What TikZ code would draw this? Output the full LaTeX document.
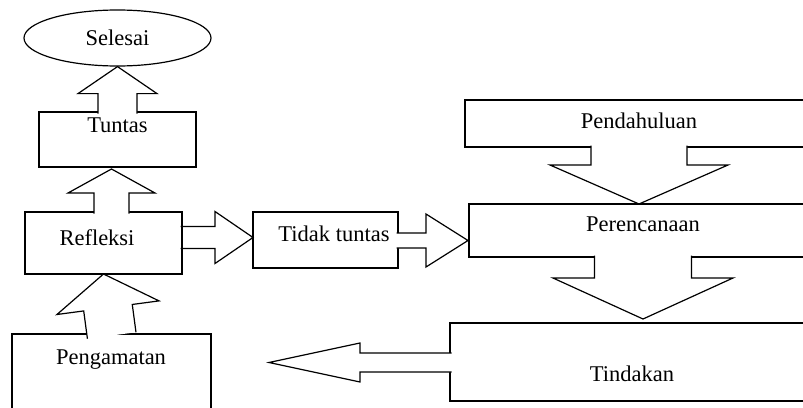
\documentclass[tikz,border=0pt]{standalone}
\usepackage{fontspec}
\setmainfont{Liberation Serif}
\usetikzlibrary{calc,shapes.geometric}
\tikzset{font=\fontsize{22.5}{27}\selectfont}
\tikzset{box/.style={draw, rectangle, line width=1.2pt, inner sep=0pt, outer sep=0pt}}
\tikzset{txt/.style={inner sep=0pt}}
\tikzset{blk/.style={line width=1.2pt, fill=white, line join=miter}}
% block arrow: [options]{start}{tip}{shaft half width}{head half width}{head length}
\newcommand{\blockarrow}[6][]{%
  \coordinate (ba-s) at ($(#2)!-1.5pt!(#3)$);
  \coordinate (ba-b) at ($(#3)!#6!(#2)$);
  \filldraw[blk,#1] ($(ba-s)!#4!90:(#3)$) -- ($(ba-b)!#4!-90:(ba-s)$)
    -- ($(ba-b)!#5!-90:(ba-s)$) -- (#3) -- ($(ba-b)!#5!90:(ba-s)$)
    -- ($(ba-b)!#4!90:(ba-s)$) -- ($(ba-s)!#4!-90:(#3)$);
}

\begin{document}
\begin{tikzpicture}[x=1pt, y=-1pt]
  \useasboundingbox (0,0) rectangle (803,407);
  \clip (0,0) rectangle (803,407);
  % boxes
  \node[ellipse, draw, line width=1.2pt, inner sep=0pt, minimum width=187, minimum height=56] (selesai) at (117.5,38) {Selesai};
  \node[box, minimum width=157, minimum height=55] (tuntas) at (117.5,139.5) {};
  \node[box, minimum width=157, minimum height=62] (refleksi) at (103.5,243) {};
  \node[box, minimum width=145, minimum height=56] (tidak) at (325.5,240) {};
  \node[box, minimum width=350, minimum height=47] (pendah) at (640,123.5) {};
  \node[box, minimum width=348, minimum height=53] (perenc) at (643,230.5) {};
  \node[box, minimum width=364, minimum height=78] (tindakan) at (632,362) {};
  \node[box, minimum width=199, minimum height=86] (pengamatan) at (111.5,377) {};
  % texts
  \node[txt] (tuntas-t) at (117.5,125.5) {Tuntas};
  \node[txt] (refleksi-t) at (97,237.5) {Refleksi};
  \node[txt] (tidak-t) at (334,234) {Tidak tuntas};
  \node[txt] (pendah-t) at (639,121) {Pendahuluan};
  \node[txt] (perenc-t) at (643,224) {Perencanaan};
  \node[txt] (tindakan-t) at (632,374) {Tindakan};
  \node[txt] (pengamatan-t) at (111,360) {Pengamatan};
  % arrow ends
  \coordinate (a2-s) at ($(refleksi.north)+(8,0)$);
  \coordinate (a2-t) at ($(tuntas.south)+(-6,2)$);
  \coordinate (a4-s) at ($(refleksi.east)+(0,-5.5)$);
  \coordinate (a4-t) at ($(tidak.west)+(0,-2.5)$);
  \coordinate (a5-s) at ($(tidak.east)+(0,0.5)$);
  \coordinate (a5-t) at ($(perenc.west)+(-1,10)$);
  \coordinate (a6-s) at ($(pendah.south)+(-1,0)$);
  \coordinate (a6-t) at ($(perenc.north)+(-4,0)$);
  \coordinate (a7-t) at ($(tindakan.north)+(11,-4)$);
  \coordinate (a8-s) at ($(tindakan.west)+(0,0.5)$);
  \coordinate (a8-t) at (269,362.5);
  % block arrows
  \blockarrow{tuntas.north}{selesai.south}{19.5pt}{39.5pt}{27pt}
  \blockarrow{a2-s}{a2-t}{17.5pt}{43.5pt}{24pt}
  \blockarrow{pengamatan.north}{refleksi.south}{24.5pt}{51.5pt}{34pt}
  \blockarrow[fill=none]{a4-s}{a4-t}{11pt}{26pt}{38pt}
  \blockarrow{a5-s}{a5-t}{7.5pt}{26.5pt}{42pt}
  \blockarrow{a6-s}{a6-t}{48pt}{89pt}{39pt}
  \blockarrow{perenc.south}{a7-t}{48.5pt}{90pt}{41pt}
  \blockarrow{a8-s}{a8-t}{9.5pt}{19.5pt}{91pt}
\end{tikzpicture}
\end{document}
